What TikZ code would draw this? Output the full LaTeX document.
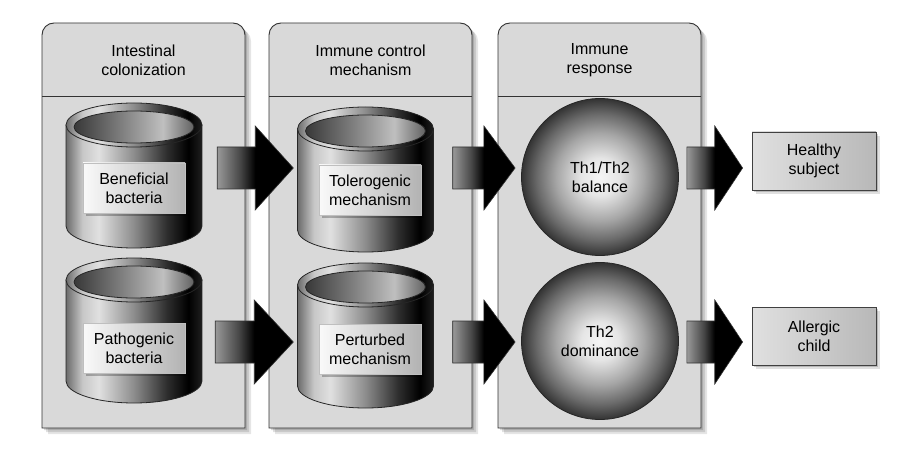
\documentclass[tikz,border=0pt]{standalone}
\usepackage{fontspec}
\setmainfont{Liberation Sans}
\usepackage{tikz}
\usetikzlibrary{calc, positioning, shadows}

\pgfdeclarehorizontalshading{cylbody}{100bp}{color(0bp)=(black!58); color(25bp)=(black!58); color(31bp)=(black!22); color(37bp)=(black!12); color(50bp)=(black!45); color(62bp)=(black!82); color(70bp)=(black!100); color(75bp)=(black!88); color(100bp)=(black!88)}
\pgfdeclarehorizontalshading{cyltop}{100bp}{color(0bp)=(black!78); color(25bp)=(black!78); color(45bp)=(black!50); color(62bp)=(black!25); color(75bp)=(black!62); color(100bp)=(black!62)}
\pgfdeclareradialshading{sphere}{\pgfpoint{0bp}{0bp}}{color(0bp)=(black!4); color(6bp)=(black!10); color(14bp)=(black!35); color(20bp)=(black!58); color(25bp)=(black!80); color(50bp)=(black!80)}
\pgfdeclarehorizontalshading{arrowfill}{100bp}{color(0bp)=(black!40); color(25bp)=(black!40); color(40bp)=(black!72); color(50bp)=(black!100); color(100bp)=(black)}

\newcommand\drawpanel[4]{%
  \draw[panel] (#2,30) -- (#2,423) arc[start angle=180, end angle=90, radius=12]
    -- ({#3-12},435) arc[start angle=90, end angle=0, radius=12] -- (#3,30) -- cycle;
  \draw[headline] (#2,362) -- (#3,362);
  \node[txt] (#1) at ({(#2+#3)/2},398) {#4};
}
\newcommand\drawcyl[3]{%
  \node[cylspace] (#1) at (#2,{#3-50.5}) {};
  \path[cylpart, shading=cylbody] ({#2-68},#3) -- ({#2-68},{#3-101})
    arc[start angle=180, end angle=360, x radius=68, y radius=22] -- ({#2+68},#3) -- cycle;
  \path[cylpart, shading=cylbody] (#2,#3) ellipse [x radius=68, y radius=22];
  \path[cylpart, shading=cyltop] (#2,{#3-2}) ellipse [x radius=60, y radius=16];
}
\newcommand\blockarrow[2]{%
  \path #1 coordinate (tail) #2 coordinate (tip);
  \path[blockarr] let \p1=(tail), \p2=(tip), \n1={(\x2-\x1)/2} in
    (\x1,\y1+21pt) -- (\x1+\n1,\y1+21pt) -- (\x1+\n1,\y1+42pt) -- (\x2,\y1)
    -- (\x1+\n1,\y1-42pt) -- (\x1+\n1,\y1-21pt) -- (\x1,\y1-21pt) -- cycle;
}

\begin{document}
\begin{tikzpicture}[x=1pt, y=1pt,
    txt/.style={font=\fontsize{16pt}{19pt}\selectfont, align=center, text=black},
    panel/.style={fill=black!15, draw=black!80, line width=0.9pt,
      drop shadow={shadow xshift=6pt, shadow yshift=-6pt, opacity=.10, fill=black},
      drop shadow={shadow xshift=4pt, shadow yshift=-4pt, opacity=.12, fill=black},
      drop shadow={shadow xshift=2pt, shadow yshift=-2pt, opacity=.15, fill=black}},
    headline/.style={draw=black!80, line width=0.9pt},
    cylspace/.style={minimum width=136pt, minimum height=145pt, inner sep=0pt},
    cylpart/.style={shade, draw=black!85, line width=0.8pt},
    labelbox/.style={txt, rectangle, draw=black!25, line width=0.4pt, shade,
      left color=black!2, right color=black!30, minimum width=102pt, minimum height=50pt,
      inner sep=0pt, drop shadow={shadow xshift=3pt, shadow yshift=-3pt, opacity=.25, fill=black}},
    sphere/.style={txt, circle, draw=black!85, line width=0.8pt, shade, shading=sphere,
      minimum size=157pt, inner sep=0pt},
    outcome/.style={txt, rectangle, draw=black!75, line width=0.8pt, shade,
      left color=black!12, middle color=black!3, right color=black!28,
      minimum width=124pt, minimum height=58pt, inner sep=0pt,
      drop shadow={shadow xshift=4pt, shadow yshift=-4pt, opacity=.12, fill=black},
      drop shadow={shadow xshift=2pt, shadow yshift=-2pt, opacity=.18, fill=black}},
    blockarr/.style={shade, shading=arrowfill, draw=black!80, line width=0.6pt}]
    \path[use as bounding box, fill=white] (0,0) rectangle (920,458);

    % the three stages
    \drawpanel{colon}{42}{245}{Intestinal\\colonization}
    \drawpanel{control}{269}{472}{Immune control\\mechanism}
    \drawpanel{response}{498}{701}{Immune\\response}

    % bacteria and mechanisms
    \drawcyl{bcyl}{134}{333}
    \drawcyl{pcyl}{134}{178}
    \drawcyl{tcyl}{365.5}{329}
    \drawcyl{ucyl}{365.5}{173}
    \node[labelbox] (benef) at (134,270) {Beneficial\\bacteria};
    \node[labelbox] (patho) at (134,110) {Pathogenic\\bacteria};
    \node[labelbox] (toler) at (370,268) {Tolerogenic\\mechanism};
    \node[labelbox] (pertu) at (370,109) {Perturbed\\mechanism};

    % immune response
    \node[sphere] (balance) at (600,281) {Th1/Th2\\balance};
    \node[sphere] (domin) at (600,117) {Th2\\dominance};

    % outcome
    \node[outcome] (healthy) at (814,297) {Healthy\\subject};
    \node[outcome] (allergic) at (814,122) {Allergic\\child};

    \coordinate (row1) at (0,290);
    \coordinate (row2) at (0,116);
    \blockarrow{($(bcyl.east|-row1)+(15,0)$)}{($(tcyl.west|-row1)+(-4,0)$)}
    \blockarrow{($(pcyl.east|-row2)+(13,0)$)}{($(ucyl.west|-row2)+(-4,0)$)}
    \blockarrow{($(tcyl.east|-row1)+(19,0)$)}{($(balance.west|-row1)+(-6,0)$)}
    \blockarrow{($(ucyl.east|-row2)+(19,0)$)}{($(domin.west|-row2)+(-6,0)$)}
    \blockarrow{($(balance.east|-row1)+(8,0)$)}{($(healthy.west|-row1)+(-9,0)$)}
    \blockarrow{($(domin.east|-row2)+(8,0)$)}{($(allergic.west|-row2)+(-9,0)$)}
\end{tikzpicture}
\end{document}
